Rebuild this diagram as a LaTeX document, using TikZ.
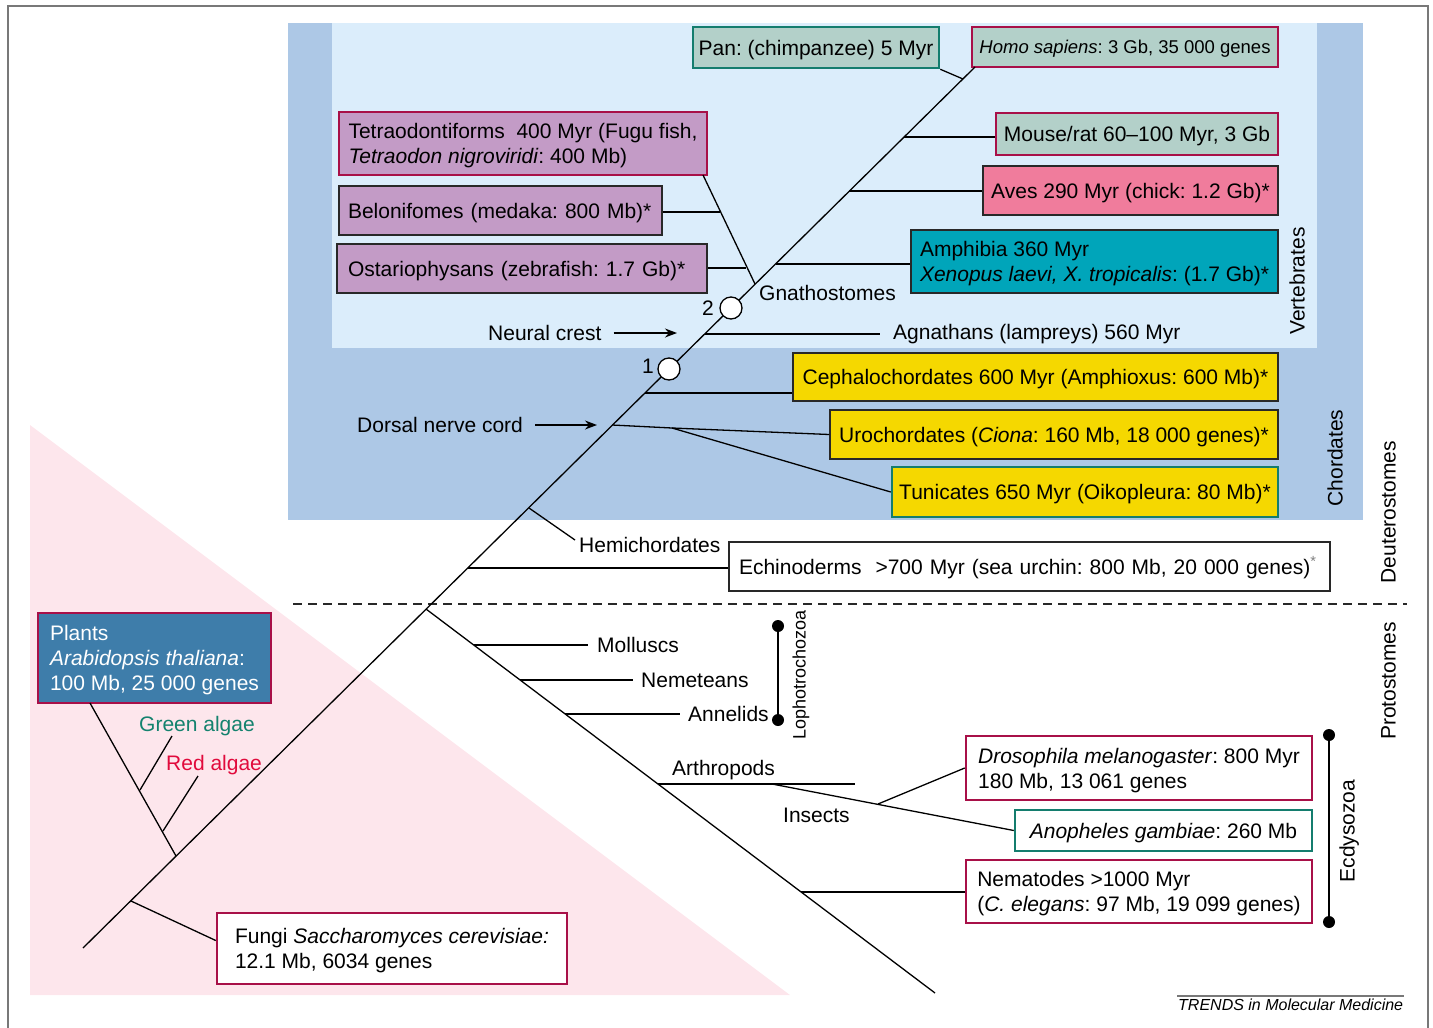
\documentclass[tikz,border=0pt]{standalone}
\usepackage{fontspec}
\setmainfont{Liberation Sans}
\AtBeginDocument{\frenchspacing}
\usetikzlibrary{arrows.meta,calc}
\definecolor{chordblue}{RGB}{173,200,230}
\definecolor{vertblue}{RGB}{219,237,251}
\definecolor{pinkbg}{RGB}{253,230,236}
\definecolor{sage}{RGB}{179,208,201}
\definecolor{crimson}{RGB}{168,16,72}
\definecolor{tealbd}{RGB}{20,125,110}
\definecolor{avespink}{RGB}{240,124,156}
\definecolor{amphcyan}{RGB}{0,165,186}
\definecolor{mauve}{RGB}{195,155,198}
\definecolor{yel}{RGB}{245,216,0}
\definecolor{plantblue}{RGB}{62,125,170}
\definecolor{greenalg}{RGB}{20,130,110}
\definecolor{redalg}{RGB}{225,10,60}
\definecolor{darkbd}{RGB}{40,40,40}
\definecolor{framegray}{RGB}{120,120,120}
\newcommand\bx[7]{%
 \pgfmathsetmacro\bxw{#4-#2}\pgfmathsetmacro\bxh{#5-#3}%
 \pgfmathsetmacro\bxcx{(#2+#4)/2}\pgfmathsetmacro\bxcy{(#3+#5)/2}%
 \node[box,#6,minimum width=\bxw pt,minimum height=\bxh pt] (#1) at (\bxcx,\bxcy) {#7};}
\newcommand\bxl[8]{%
 \pgfmathsetmacro\bxw{#4-#2}\pgfmathsetmacro\bxh{#5-#3}\pgfmathsetmacro\bxtw{#4-#2-2*#6}%
 \pgfmathsetmacro\bxcx{(#2+#4)/2}\pgfmathsetmacro\bxcy{(#3+#5)/2}%
 \node[box,#7,minimum width=\bxw pt,minimum height=\bxh pt,text width=\bxtw pt,inner xsep=#6 pt] (#1) at (\bxcx,\bxcy) {#8};}
\tikzset{
 br/.style={line width=1.3pt, draw=black},
 box/.style={inner sep=0pt, align=left, anchor=center, font=\fontsize{21}{25}\selectfont\frenchspacing},
 sl/.style={text height=15pt, text depth=0pt},
 mlii/.style={text height=40pt, text depth=0pt},
 mliii/.style={text height=65pt, text depth=0pt},
 redb/.style={draw=crimson, line width=2.5pt},
 tealb/.style={draw=tealbd, line width=2.5pt},
 darkb/.style={draw=darkbd, line width=1.5pt},
 lbl/.style={inner sep=0pt, anchor=west, text height=15pt, text depth=0pt, font=\fontsize{21}{25}\selectfont\frenchspacing},
 rot/.style={rotate=90, inner sep=0pt, text height=15pt, text depth=0pt, font=\fontsize{21}{25}\selectfont},
 dotn/.style={circle, fill=black, inner sep=0pt, minimum size=12pt},
 knot/.style={circle, draw=black, fill=white, line width=1.3pt, minimum size=22pt, inner sep=0pt},
 arr/.style={line width=1.3pt, -{Stealth[length=12pt,width=9pt]}}
}
\begin{document}
\begin{tikzpicture}[x=1pt,y=-1pt]
\useasboundingbox (0,0) rectangle (1433,1028);
% backgrounds
\fill[chordblue] (288,23) rectangle (1363,520);
\fill[vertblue] (332,23) rectangle (1317,348);
\fill[pinkbg] (30,425) -- (30,995) -- (790,995) -- cycle;
\draw[framegray, line width=2pt] (8,1028) -- (8,6) -- (1428,6) -- (1428,1028);
\draw[darkbd, line width=1.3pt, dash pattern=on 9pt off 6pt] (293,604) -- (1407,604);

% boxes
\bx{pan}{693}{27}{939}{68}{fill=sage,tealb,sl}{Pan: (chimpanzee) 5 Myr}
\bx{homo}{972}{27}{1278}{67}{fill=sage,redb,font=\fontsize{18.5}{22}\selectfont\frenchspacing,text height=13.3pt,text depth=0pt}{\textit{Homo sapiens}: 3 Gb, 35 000 genes}
\bx{mouse}{996}{113}{1278}{155}{fill=sage,redb,sl}{Mouse/rat 60–100 Myr, 3 Gb}
\bx{aves}{983}{166}{1278}{215}{fill=avespink,darkb,sl}{Aves 290 Myr (chick: 1.2 Gb)*}
\bx{amph}{911}{230}{1278}{293}{fill=amphcyan,darkb,mlii}{Amphibia 360 Myr\\\textit{Xenopus laevi, X. tropicalis}: (1.7 Gb)*}
\bx{tetra}{339}{112}{707}{175}{fill=mauve,redb,mlii}{Tetraodontiforms\ \ 400 Myr (Fugu fish,\\\textit{Tetraodon nigroviridi}: 400 Mb)}
\bxl{belo}{339}{186}{662}{235}{9}{fill=mauve,darkb,sl}{Belonifomes (medaka: 800 Mb)*}
\bxl{osta}{337}{244}{707}{293}{11}{fill=mauve,darkb,sl}{Ostariophysans (zebrafish: 1.7 Gb)*}
\bx{ceph}{793}{353}{1278}{401}{fill=yel,darkb,sl}{Cephalochordates 600 Myr (Amphioxus: 600 Mb)*}
\bx{uro}{830}{410}{1278}{459}{fill=yel,darkb,sl}{Urochordates (\textit{Ciona}: 160 Mb, 18 000 genes)*}
\bx{tun}{892}{467}{1278}{517}{fill=yel,tealb,sl}{Tunicates 650 Myr (Oikopleura: 80 Mb)*}
\bxl{echi}{729}{542}{1330}{591}{10}{fill=white,darkb,sl}{Echinoderms\ \ >700 Myr (sea urchin: 800 Mb, 20 000 genes)\textsuperscript{\color{gray}*}}
\bx{plants}{38}{613}{271}{703}{fill=plantblue,redb,text=white,mliii}{Plants\\\textit{Arabidopsis thaliana}:\\100 Mb, 25 000 genes}
\bx{fungi}{217}{913}{567}{984}{fill=white,redb,mlii}{Fungi \textit{Saccharomyces cerevisiae:}\\12.1 Mb, 6034 genes}
\bx{dros}{966}{736}{1312}{800}{fill=white,redb,mlii}{\textit{Drosophila melanogaster}: 800 Myr\\180 Mb, 13 061 genes}
\bx{anop}{1015}{810}{1312}{851}{fill=white,tealb,sl}{\textit{Anopheles gambiae}: 260 Mb}
\bx{nema}{966}{860}{1312}{923}{fill=white,redb,mlii}{Nematodes >1000 Myr\\(\textit{C. elegans}: 97 Mb, 19 099 genes)}

% trunk coordinates
\coordinate (t0) at (83,948);
\coordinate (tF) at (131,901);
\coordinate (tP) at (176,856);
\coordinate (tPr) at (426,609);
\coordinate (tE) at (468,568);
\coordinate (tH) at (529,508);
\coordinate (tD) at (612,425);
\coordinate (tC) at (645,393);
\coordinate (tA) at (705,334);
\coordinate (tT) at (755,284);
\coordinate (tAm) at (776,264);
\coordinate (tAv) at (849,191);
\coordinate (tM) at (904,137);
\coordinate (tPan) at (963,79);
\coordinate (ttop) at (975,67);
\draw[br] (t0) -- (ttop);

% deuterostome branches
\draw[br] (tPan) -- (pan.south east);
\draw[br] (tM) -- (tM -| mouse.west);
\draw[br] (tAv) -- (tAv -| aves.west);
\draw[br] (tAm) -- (tAm -| amph.west);
\coordinate (tel1) at (720,212);
\coordinate (tel2) at (746,268);
\coordinate (telt) at (703,175);
\draw[br] (tT) -- (telt);
\draw[br] (tel1) -- (tel1 -| belo.east);
\draw[br] (tel2) -- (tel2 -| osta.east);
\coordinate (agn) at (880,334);
\draw[br] (tA) -- (agn);
\draw[br] (tC) -- (tC -| ceph.west);
\coordinate (dn) at (672,428);
\draw[br] (tD) -- (dn) -- (uro.west);
\draw[br] (dn) -- (tun.west);
\coordinate (hemi) at (575,540);
\draw[br] (tH) -- (hemi);
\draw[br] (tE) -- (tE -| echi.west);

% fungi and plants
\draw[br] (tF) -- ($(fungi.west)+(0,-8)$);
\coordinate (pl) at (90,703);
\draw[br] (tP) -- (pl);
\coordinate (ga0) at (140,790);
\coordinate (ga1) at (172,736);
\coordinate (ra0) at (163,831);
\coordinate (ra1) at (198,776);
\draw[br] (ga0) -- (ga1);
\draw[br] (ra0) -- (ra1);

% protostomes
\coordinate (pend) at (935,993);
\draw[br] (tPr) -- (pend);
\coordinate (mo) at (474,645);
\coordinate (ne) at (520,680);
\coordinate (an) at (565,714);
\coordinate (ar) at (658,784);
\coordinate (nm) at (801,892);
\draw[br] (mo) -- (588,645);
\draw[br] (ne) -- (633,680);
\draw[br] (an) -- (680,714);
\draw[br] (ar) -- (855,784);
\coordinate (ins) at (772,784);
\coordinate (insd) at (878,804);
\draw[br] (ins) -- (anop.west);
\draw[br] (insd) -- (dros.west);
\draw[br] (nm) -- (nm -| nema.west);

% knots
\node[knot] (k1) at (669,369) {};
\node[knot] (k2) at (731,308) {};
\node[lbl, anchor=center] (n1) at (648,366) {1};
\node[lbl, anchor=center] (n2) at (708,308) {2};

% labels
\node[lbl] (gna) at (759,293) {Gnathostomes};
\node[lbl] (nc) at (488,333) {Neural crest};
\coordinate (nca) at (677,333);
\draw[arr] ($(nc.east)+(12,0)$) -- (nca);
\node[lbl] (agl) at (893,332) {Agnathans (lampreys) 560 Myr};
\node[lbl] (dnc) at (357,425) {Dorsal nerve cord};
\coordinate (dnca) at (597,425);
\draw[arr] ($(dnc.east)+(12,0)$) -- (dnca);
\node[lbl] (hemil) at (579,545) {Hemichordates};
\node[lbl] (mol) at (597,645) {Molluscs};
\node[lbl] (nem) at (641,680) {Nemeteans};
\node[lbl] (ann) at (688,714) {Annelids};
\node[lbl] (arth) at (672,768) {Arthropods};
\node[lbl] (inse) at (783,815) {Insects};
\node[lbl, text=greenalg] (gal) at (139,724) {Green algae};
\node[lbl, text=redalg] (ral) at (166,763) {Red algae};

% rotated group labels
\node[rot] (vert) at (1297,281) {Vertebrates};
\node[rot] (chor) at (1335,458) {Chordates};
\node[rot] (deut) at (1388,512) {Deuterostomes};
\node[rot] (prot) at (1388,681) {Protostomes};
\node[rot, text height=13pt, font=\fontsize{18}{22}\selectfont] (loph) at (799,675) {Lophotrochozoa};
\node[rot] (ecdy) at (1347,831) {Ecdysozoa};

% group bars
\node[dotn] (l1) at (778,626) {};
\node[dotn] (l2) at (778,720) {};
\draw[br] (l1) -- (l2);
\node[dotn] (e1) at (1329,735) {};
\node[dotn] (e2) at (1329,922) {};
\draw[br] (e1) -- (e2);

% credit
\draw[framegray, line width=1.3pt] (1177,996) -- (1404,996);
\node[lbl, text height=11.5pt, font=\fontsize{16}{19}\selectfont\itshape] (cred) at (1178,1005) {TRENDS in Molecular Medicine};
\end{tikzpicture}
\end{document}
